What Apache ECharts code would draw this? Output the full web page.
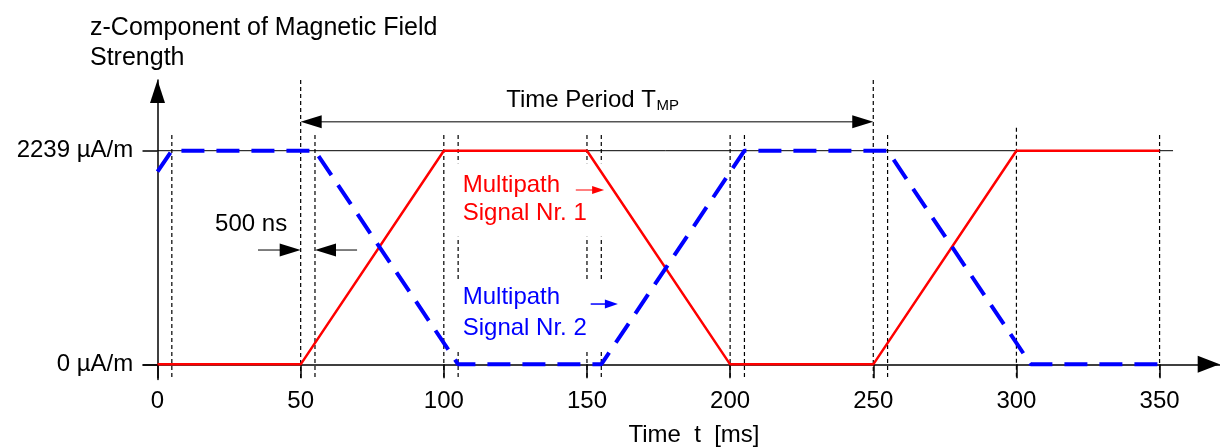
<!DOCTYPE html>
<html><head><meta charset="utf-8">
<script src="https://cdn.jsdelivr.net/npm/echarts@6/dist/echarts.min.js"></script>
<style>html,body{margin:0;padding:0;background:#fff}#c{width:1220px;height:447px}</style>
</head><body><div id="c"></div>
<script>
// ---- data ----
const timeTicks = [0, 50, 100, 150, 200, 250, 300, 350];
const fieldTicks = [0, 2239];
const fieldTickLabels = ['0 µA/m', '2239 µA/m'];
const signal1Time = [0, 50, 100, 150, 200, 250, 300, 350];
const signal1Field = [0, 0, 2239, 2239, 0, 0, 2239, 2239];
const signal2Time = [0, 5, 55, 105, 155, 205, 255, 305, 350];
const signal2Field = [2019, 2239, 2239, 0, 0, 2239, 2239, 0, 0];
const guideTime = [5, 50, 55, 100, 105, 150, 155, 200, 205, 250, 255, 300, 350];
const guideTop = [2404, 2980, 2404, 2404, 2404, 2404, 2404, 2404, 2404, 2980, 2404, 2480, 2404];
const guideBottom = -160;
const titleText = 'z-Component of Magnetic Field\nStrength';
const xAxisName = 'Time  t  [ms]';
const periodLabel = ['Time Period T', 'MP'];
const pulseLabel = '500 ns';
const signalLabels = ['Multipath\nSignal Nr. 1', 'Multipath\nSignal Nr. 2'];
// annotation anchors (data coordinates)
const arrowSegs = [
  [50, 2543, 250, 2543],
  [35.1, 1198, 50, 1198],
  [69.7, 1198, 55, 1198],
  [146.1, 1827, 156.0, 1827],
  [151.3, 632, 160.8, 632]
];
const labelAnchors = [
  [32.7, 1463],
  [106.6, 1731],
  [106.6, 537],
  [174.1, 2770],
  [174.3, 2711]
];
const maskBoxes = [
  [102.9, 2108, 159.1, 1337],
  [102.9, 895, 159.1, 150]
];
const refLine = [[0, 2239, 354.7]];

// ---- styles ----
const FONT = '"Liberation Sans", Arial, sans-serif';
const arrowStyles = [
  {line: '#555', lw: 1.6, head: '#000', hl: 21, hw: 13, start: true, end: true},
  {line: '#000', lw: 1, head: '#000', hl: 21, hw: 13, start: false, end: true},
  {line: '#000', lw: 1, head: '#000', hl: 21, hw: 13, start: false, end: true},
  {line: '#f00', lw: 1, head: '#f00', hl: 12, hw: 8, start: false, end: true},
  {line: '#00f', lw: 1.5, head: '#00f', hl: 13, hw: 9, start: false, end: true}
];
const labelStyles = [
  {text: pulseLabel, fill: '#000', fontSize: 24, align: 'center', lineHeight: 28},
  {text: signalLabels[0], fill: '#ff0000', fontSize: 24, align: 'left', lineHeight: 28},
  {text: signalLabels[1], fill: '#0000ff', fontSize: 24, align: 'left', lineHeight: 31},
  {text: periodLabel[0], fill: '#000', fontSize: 24, align: 'right', lineHeight: 28},
  {text: periodLabel[1], fill: '#000', fontSize: 15, align: 'left', lineHeight: 18}
];

function arrowGroup(api, idx) {
  const o = arrowStyles[idx];
  const p = api.coord([api.value(0), api.value(1)]);
  const q = api.coord([api.value(2), api.value(3)]);
  const dx = q[0] - p[0], dy = q[1] - p[1];
  const len = Math.hypot(dx, dy) || 1;
  const ux = dx / len, uy = dy / len, nx = -uy, ny = ux;
  const children = [];
  function head(tip, sx, sy) {
    const bx = tip[0] - sx * o.hl, by = tip[1] - sy * o.hl;
    return {type: 'polygon', shape: {points: [[tip[0], tip[1]], [bx + nx * o.hw / 2, by + ny * o.hw / 2], [bx - nx * o.hw / 2, by - ny * o.hw / 2]]}, style: {fill: o.head}};
  }
  let s = p.slice(), e = q.slice();
  if (o.end) { e = [q[0] - ux * o.hl * 0.8, q[1] - uy * o.hl * 0.8]; }
  if (o.start) { s = [p[0] + ux * o.hl * 0.8, p[1] + uy * o.hl * 0.8]; }
  children.push({type: 'line', shape: {x1: s[0], y1: s[1], x2: e[0], y2: e[1]}, style: {stroke: o.line, lineWidth: o.lw}});
  if (o.end) children.push(head(q, ux, uy));
  if (o.start) children.push(head(p, -ux, -uy));
  return {type: 'group', children};
}

const chart = echarts.init(document.getElementById('c'), null, {renderer: 'canvas'});
chart.setOption({
  animation: false,
  backgroundColor: '#fff',
  textStyle: {fontFamily: FONT},
  title: {
    text: titleText, left: 90, top: 13, padding: 0,
    textStyle: {fontSize: 25, lineHeight: 30, fontWeight: 'normal', color: '#000', fontFamily: FONT}
  },
  grid: {left: 143.2, right: 0.3, top: 80, bottom: 67.4, containLabel: false, outerBoundsMode: 'none'},
  xAxis: {
    type: 'value', min: -5, max: 371,
    axisLine: {onZero: true, lineStyle: {color: '#000', width: 1.5}, symbol: ['none', 'triangle'], symbolSize: [17, 22], symbolOffset: [0, -11]},
    axisTick: {customValues: timeTicks, length: 14, lineStyle: {color: '#000', width: 1.5}},
    axisLabel: {customValues: timeTicks, margin: 10, fontSize: 24, color: '#000', fontFamily: FONT},
    splitLine: {show: false},
    name: xAxisName, nameLocation: 'middle', nameGap: 44,
    nameTextStyle: {fontSize: 24, color: '#000', fontFamily: FONT, padding: [0, 0, 0, 25]}
  },
  yAxis: {
    type: 'value', min: -160, max: 2980,
    axisLine: {onZero: true, lineStyle: {color: '#000', width: 1.5}, symbol: ['none', 'triangle'], symbolSize: [15, 23], symbolOffset: [0, -11.5]},
    axisTick: {customValues: fieldTicks, length: 15, lineStyle: {color: '#000', width: 1.5}},
    axisLabel: {customValues: fieldTicks, margin: 10, fontSize: 24, color: '#000', fontFamily: FONT,
      formatter: v => fieldTickLabels[fieldTicks.indexOf(v)]},
    splitLine: {show: false}
  },
  series: [
    {
      type: 'custom', z: 1, silent: true,
      data: guideTime.map((t, i) => [t, guideTop[i], guideBottom]),
      renderItem: (params, api) => {
        const a = api.coord([api.value(0), api.value(1)]);
        const b = api.coord([api.value(0), api.value(2)]);
        return {type: 'line', shape: {x1: a[0], y1: a[1], x2: b[0], y2: b[1]}, style: {stroke: '#000', lineWidth: 1.2, lineDash: [4, 3]}};
      }
    },
    {
      type: 'custom', z: 2, silent: true,
      data: maskBoxes,
      renderItem: (params, api) => {
        const a = api.coord([api.value(0), api.value(1)]);
        const b = api.coord([api.value(2), api.value(3)]);
        return {type: 'rect', shape: {x: a[0], y: a[1], width: b[0] - a[0], height: b[1] - a[1]}, style: {fill: '#fff'}};
      }
    },
    {
      type: 'custom', z: 2, silent: true,
      data: refLine,
      renderItem: (params, api) => {
        const a = api.coord([api.value(0), api.value(1)]);
        const b = api.coord([api.value(2), api.value(1)]);
        return {type: 'line', shape: {x1: a[0], y1: a[1], x2: b[0], y2: b[1]}, style: {stroke: '#000', lineWidth: 1}};
      }
    },
    {
      type: 'line', z: 3, symbol: 'none', showSymbol: false,
      data: signal1Time.map((t, i) => [t, signal1Field[i]]),
      lineStyle: {color: '#ff0000', width: 2.5}
    },
    {
      type: 'line', z: 4, symbol: 'none', showSymbol: false,
      data: signal2Time.map((t, i) => [t, signal2Field[i]]),
      lineStyle: {color: '#0000ff', width: 4, type: [23, 12]}
    },
    {
      type: 'custom', z: 5, silent: true,
      data: arrowSegs,
      renderItem: (params, api) => arrowGroup(api, params.dataIndex)
    },
    {
      type: 'custom', z: 6, silent: true,
      data: labelAnchors,
      renderItem: (params, api) => {
        const s = labelStyles[params.dataIndex];
        const p = api.coord([api.value(0), api.value(1)]);
        return {type: 'text', x: p[0], y: p[1], style: {
          text: s.text, fill: s.fill, fontSize: s.fontSize, fontFamily: FONT,
          align: s.align, verticalAlign: 'middle', lineHeight: s.lineHeight
        }};
      }
    }
  ]
});
</script></body></html>
